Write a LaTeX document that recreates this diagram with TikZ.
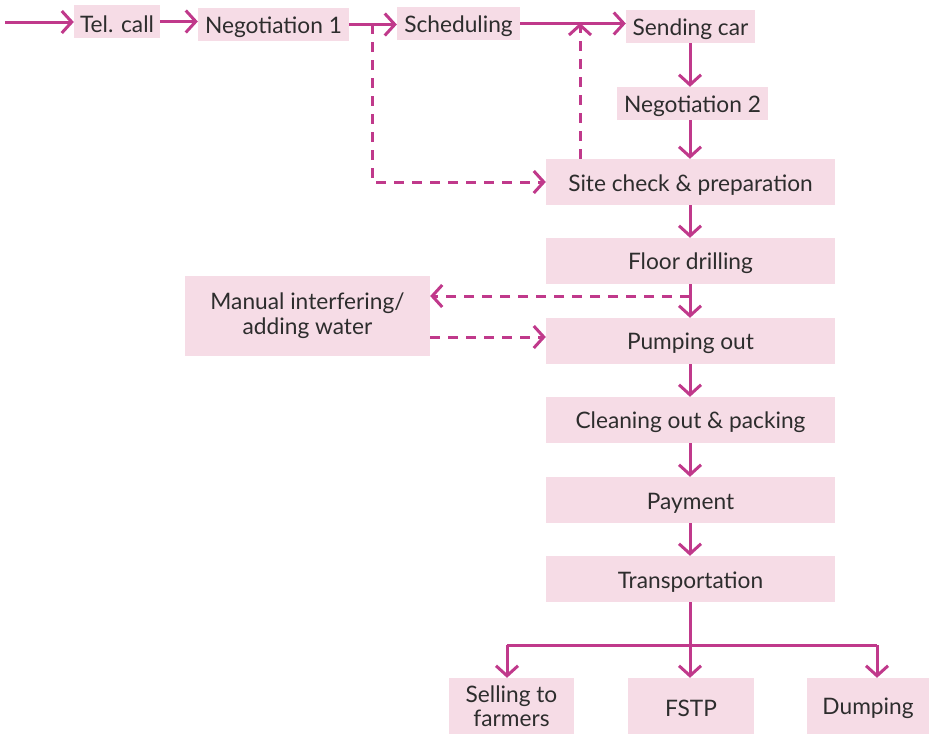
\documentclass[tikz,border=0pt]{standalone}
\usepackage{fontspec}
\setmainfont{Lato}
\usepackage{tikz}
\usetikzlibrary{arrows.meta,positioning}
\definecolor{flowpink}{RGB}{192,57,139}
\definecolor{boxpink}{RGB}{246,220,230}
\definecolor{textgray}{RGB}{45,45,45}

\begin{document}
\begin{tikzpicture}[
        x=1pt, y=-1pt,
        stepbox/.style={
            rectangle, fill=boxpink, text=textgray, inner sep=0pt,
            font=\fontsize{22.7}{25}\selectfont, align=center, minimum height=33pt,
            execute at begin node={\rule{0pt}{22pt}}
        },
        widebox/.style={
            stepbox, minimum width=289pt, minimum height=46pt
        },
        endbox/.style={
            stepbox, minimum height=56pt
        },
        twoline/.style={
            align=none, execute at begin node={}
        },
        line/.style={
            draw=flowpink, line width=3pt
        },
        flow/.style={
            line, -{Straight Barb[length=10pt,width=22pt,line width=3pt]}
        },
        dflow/.style={
            flow, dash pattern=on 10pt off 8pt
        }
    ]
    \useasboundingbox (0,0) rectangle (929,734);

    % First row
    \node[stepbox, minimum width=86pt] (tel) at (117,21.5) {Tel. call};
    \node[stepbox, minimum width=151pt] (neg1) at (273.5,24.5) {Negotiation 1};
    \node[stepbox, minimum width=123pt] (sched) at (458.5,23.5) {Scheduling};
    \node[stepbox, minimum width=129pt] (car) at (690.5,26.5) {Sending car};
    \node[stepbox, minimum width=151pt] (neg2) at (692.5,103.5) {Negotiation 2};

    % Main column
    \node[widebox] (site) at (690.5,182) {Site check \& preparation};
    \node[widebox] (drill) at (690.5,261) {Floor drilling};
    \node[widebox] (pump) at (690.5,341) {Pumping out};
    \node[widebox] (clean) at (690.5,420) {Cleaning out \& packing};
    \node[widebox] (pay) at (690.5,500) {Payment};
    \node[widebox] (trans) at (690.5,579) {Transportation};

    % Side box
    \node[stepbox, twoline, minimum width=245pt, minimum height=80pt] (manual) at (307.5,316)
        {\raisebox{-3pt}{\shortstack{Manual interfering/\\[1pt]adding water}}};

    % Destinations
    \node[endbox, twoline, minimum width=125pt] (sell) at (511.5,706)
        {\raisebox{-2pt}{\shortstack{Selling to\\farmers}}};
    \node[endbox, minimum width=126pt] (fstp) at (691,706) {FSTP};
    \node[endbox, minimum width=122pt] (dump) at (868,706) {Dumping};

    % Helper points
    \coordinate (start) at (5,22);
    \coordinate (b1) at (372,24);
    \coordinate (b2) at (580,23);
    \coordinate (b3) at (690,296);
    \coordinate (b4) at (430,337);
    \coordinate (split) at (690,645);
    \coordinate (s1) at (507,645);
    \coordinate (s3) at (877,645);

    % Top chain
    \draw[flow] (start) -- (start -| tel.west);
    \draw[flow] (tel.east) -- (tel.east -| neg1.west);
    \draw[flow] (neg1.east) -- (neg1.east -| sched.west);
    \draw[flow] (sched.east) -- (sched.east -| car.west);
    \draw[flow] (car.south -| b3) -- (neg2.north -| b3);
    \draw[flow] (neg2.south -| b3) -- (site.north -| b3);

    % Dashed loops
    \draw[dflow] (b1) |- (site.west);
    \draw[dflow] (site.north -| b2) -- (b2);
    \draw[dflow] (b3) -- (b3 -| manual.east);
    \draw[dflow] (b4) -- (b4 -| pump.west);

    % Main column arrows
    \draw[flow] (site.south -| b3) -- (drill.north -| b3);
    \draw[flow] (drill.south -| b3) -- (pump.north -| b3);
    \draw[flow] (pump.south -| b3) -- (clean.north -| b3);
    \draw[flow] (clean.south -| b3) -- (pay.north -| b3);
    \draw[flow] (pay.south -| b3) -- (trans.north -| b3);

    % Branching
    \draw[line] (trans.south -| split) -- (split);
    \draw[line] (s1) -- (s3);
    \draw[flow] (s1) -- (s1 |- sell.north);
    \draw[flow] (split) -- (split |- fstp.north);
    \draw[flow] (s3) -- (s3 |- dump.north);

\end{tikzpicture}
\end{document}
